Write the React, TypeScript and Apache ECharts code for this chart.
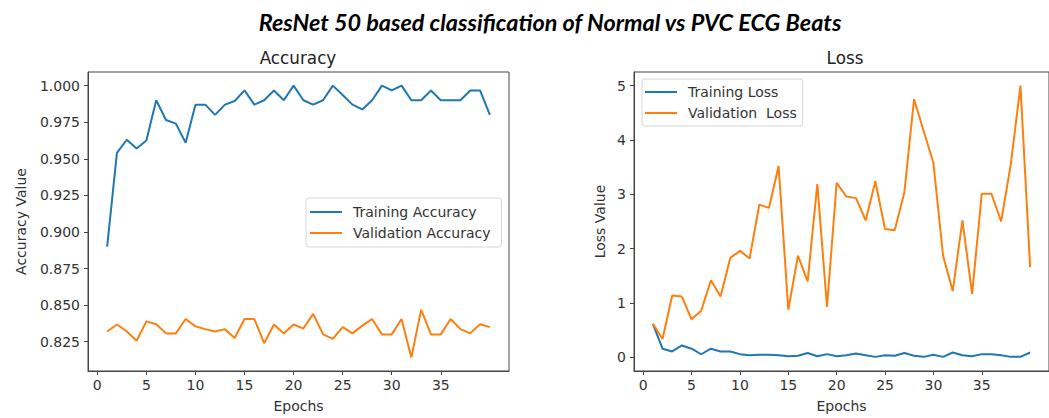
import React, { useEffect, useRef } from "react";
import * as echarts from "echarts";

const epochs = [1,2,3,4,5,6,7,8,9,10,11,12,13,14,15,16,17,18,19,20,21,22,23,24,25,26,27,28,29,30,31,32,33,34,35,36,37,38,39,40];

const trainAcc = [0.890, 0.954, 0.963, 0.957, 0.9625, 0.990, 0.9765, 0.974, 0.961, 0.987, 0.987, 0.980, 0.987, 0.9895, 0.9967, 0.987, 0.990, 0.9967, 0.990, 1.000, 0.990, 0.987, 0.990, 1.000, 0.9936, 0.987, 0.9837, 0.990, 1.000, 0.9967, 1.000, 0.990, 0.990, 0.9967, 0.990, 0.990, 0.990, 0.9967, 0.9967, 0.980];
const valAcc = [0.832, 0.8368, 0.832, 0.8257, 0.8389, 0.837, 0.8307, 0.8307, 0.8405, 0.8355, 0.8336, 0.832, 0.8336, 0.8275, 0.8405, 0.8405, 0.824, 0.8368, 0.8307, 0.8368, 0.834, 0.844, 0.830, 0.827, 0.835, 0.8307, 0.836, 0.8405, 0.830, 0.830, 0.8405, 0.8143, 0.8468, 0.830, 0.830, 0.8405, 0.8336, 0.8307, 0.837, 0.835];
const trainLoss = [0.615, 0.16, 0.11, 0.22, 0.16, 0.058, 0.16, 0.11, 0.11, 0.06, 0.04, 0.05, 0.05, 0.04, 0.02, 0.03, 0.08, 0.02, 0.06, 0.02, 0.04, 0.07, 0.04, 0.01, 0.04, 0.03, 0.08, 0.03, 0.01, 0.05, 0.01, 0.09, 0.04, 0.02, 0.06, 0.06, 0.04, 0.01, 0.01, 0.09];
const valLoss = [0.62, 0.34, 1.14, 1.12, 0.70, 0.86, 1.42, 1.12, 1.83, 1.96, 1.82, 2.81, 2.75, 3.52, 0.88, 1.87, 1.40, 3.19, 0.93, 3.21, 2.96, 2.93, 2.52, 3.24, 2.36, 2.34, 3.04, 4.75, 4.16, 3.58, 1.87, 1.22, 2.52, 1.17, 3.01, 3.01, 2.50, 3.55, 5.00, 1.66];

const xTicks = [0, 5, 10, 15, 20, 25, 30, 35];
const accTicks = [0.825, 0.85, 0.875, 0.9, 0.925, 0.95, 0.975, 1.0];
const lossTicks = [0, 1, 2, 3, 4, 5];

const mainTitle = "ResNet 50 based classification of Normal vs PVC ECG Beats";
const accTitle = "Accuracy";
const lossTitle = "Loss";

const BLUE = "#1f77b4";
const ORANGE = "#ff7f0e";
const FONT = "DejaVu Sans";
const AX = "#444";

function pairs(ys: number[]) {
  return epochs.map((e, i) => [e, ys[i]]);
}

function xAxis(gridIndex: number) {
  return {
    type: "value",
    gridIndex,
    min: -0.95,
    max: 41.95,
    name: "Epochs",
    nameLocation: "middle",
    nameGap: 28,
    nameTextStyle: { fontFamily: FONT, fontSize: 14, color: "#333" },
    splitLine: { show: false },
    axisLine: { show: true, onZero: false, lineStyle: { color: AX, width: 1 } },
    axisTick: { show: true, length: 4, customValues: xTicks, lineStyle: { color: AX } },
    axisLabel: { customValues: xTicks, fontFamily: FONT, fontSize: 14, color: "#333", margin: 7 },
  };
}

function yAxis(gridIndex: number, min: number, max: number, ticks: number[], name: string, gap: number, fmt: (v: number) => string) {
  return {
    type: "value",
    gridIndex,
    min,
    max,
    name,
    nameLocation: "middle",
    nameGap: gap,
    nameTextStyle: { fontFamily: FONT, fontSize: 14, color: "#333" },
    splitLine: { show: false },
    axisLine: { show: true, onZero: false, lineStyle: { color: AX, width: 1 } },
    axisTick: { show: true, length: 4, customValues: ticks, lineStyle: { color: AX } },
    axisLabel: { customValues: ticks, fontFamily: FONT, fontSize: 14, color: "#333", margin: 8, formatter: fmt },
  };
}

function legendCfg(names: string[], left: number, top: number, padding: number[]) {
  return {
    data: names,
    orient: "vertical",
    left,
    top,
    icon: "rect",
    itemWidth: 32,
    itemHeight: 2,
    itemGap: 5,
    padding,
    backgroundColor: "rgba(255,255,255,0.85)",
    borderColor: "#d6d6d6",
    borderWidth: 1,
    borderRadius: 3,
    textStyle: { fontFamily: FONT, fontSize: 14, color: "#333", lineHeight: 16, padding: [0, 0, 0, 6] },
  };
}

function line(name: string, ys: number[], color: string, idx: number) {
  return {
    type: "line",
    name,
    xAxisIndex: idx,
    yAxisIndex: idx,
    data: pairs(ys),
    symbol: "none",
    color,
    lineStyle: { color, width: 2 },
    z: color === ORANGE ? 3 : 2,
  };
}

export default function App() {
  const ref = useRef<HTMLDivElement>(null);
  useEffect(() => {
    if (!ref.current) return;
    const chart = echarts.init(ref.current, null, { renderer: "svg" });
    chart.setOption({
      animation: false,
      backgroundColor: "#ffffff",
      grid: [
        { left: 88, top: 72, width: 421, height: 302, show: true, borderColor: AX, borderWidth: 1, backgroundColor: "transparent" },
        { left: 634, top: 72, width: 422, height: 302, show: true, borderColor: AX, borderWidth: 1, backgroundColor: "transparent" },
      ],
      xAxis: [xAxis(0), xAxis(1)],
      yAxis: [
        yAxis(0, 0.805, 1.0093, accTicks, "Accuracy Value", 60, (v: number) => v.toFixed(3)),
        yAxis(1, -0.25, 5.25, lossTicks, "Loss Value", 27, (v: number) => String(v)),
      ],
      legend: [
        legendCfg(["Training Accuracy", "Validation Accuracy"], 306, 198, [6, 11, 6, 4]),
        legendCfg(["Training Loss", "Validation  Loss"], 642, 79, [5, 6, 5, 3]),
      ],
      graphic: [
        { type: "text", x: 550, y: 22, style: { text: mainTitle, fontFamily: "Lato", fontWeight: "bold", fontStyle: "italic", fontSize: 23.4, fill: "#000", align: "center", verticalAlign: "middle" } },
        { type: "text", x: 298, y: 58, style: { text: accTitle, fontFamily: FONT, fontSize: 16.8, fill: "#222", align: "center", verticalAlign: "middle" } },
        { type: "text", x: 845, y: 58, style: { text: lossTitle, fontFamily: FONT, fontSize: 16.8, fill: "#222", align: "center", verticalAlign: "middle" } },
      ],
      series: [
        line("Training Accuracy", trainAcc, BLUE, 0),
        line("Validation Accuracy", valAcc, ORANGE, 0),
        line("Training Loss", trainLoss, BLUE, 1),
        line("Validation  Loss", valLoss, ORANGE, 1),
      ],
    });
    return () => chart.dispose();
  }, []);
  return <div ref={ref} style={{ position: "fixed", left: 0, top: 0, width: 1049, height: 418, background: "#fff" }} />;
}
